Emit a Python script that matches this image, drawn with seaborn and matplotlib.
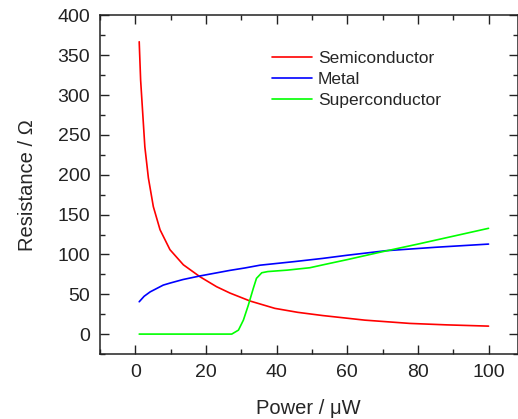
import numpy as np
import pandas as pd
import matplotlib
matplotlib.use("Agg")
import matplotlib.pyplot as plt
import seaborn as sns
from matplotlib.ticker import MultipleLocator

# Data
semi_x = [1.1, 1.5, 2.1, 2.7, 3.7, 5.1, 7.0, 9.8, 13.6, 18.3, 23.0, 26.8,
          32.5, 39.5, 46.0, 53.0, 65.0, 77.7, 88.0, 100.0]
semi_y = [367, 319, 277, 235, 196, 160, 131, 106, 87, 72, 59.5, 51.5,
          41.5, 32.3, 27.3, 23.3, 17.5, 13.4, 11.6, 10.0]

metal_x = [1.1, 2.5, 4.2, 7.9, 9.8, 13.5, 18.3, 26.8, 31.0, 35.3, 45.0,
           53.0, 60.0, 71.0, 85.0, 100.0]
metal_y = [40.6, 47.5, 53.0, 61.5, 64.0, 68.5, 73.0, 80.0, 83.0, 86.5, 91.0,
           95.0, 99.0, 104.7, 109.0, 113.0]

super_x = [1.1, 27.3, 29.2, 30.6, 32.0, 33.4, 34.3, 35.8, 37.5, 43.0, 49.4,
           53.7, 60.0, 69.2, 80.0, 100.0]
super_y = [0.0, 0.0, 5.0, 17.6, 36.4, 57.4, 70.0, 77.0, 78.5, 80.3, 83.3,
           87.5, 93.5, 102.7, 113.0, 132.8]

series_names = ["Semiconductor", "Metal", "Superconductor"]
colors = ["#ff0000", "#0000ff", "#00ff00"]

df = pd.concat([
    pd.DataFrame({"x": semi_x, "y": semi_y, "series": series_names[0]}),
    pd.DataFrame({"x": metal_x, "y": metal_y, "series": series_names[1]}),
    pd.DataFrame({"x": super_x, "y": super_y, "series": series_names[2]}),
], ignore_index=True)

sns.set_theme(style="ticks")
plt.rcParams["font.family"] = ["Liberation Sans", "DejaVu Sans"]

fig = plt.figure(figsize=(5.18, 4.19), dpi=100)
ax = fig.add_axes([100 / 518, 1 - 354 / 419, 417.5 / 518, (354 - 15.5) / 419])

sns.lineplot(data=df, x="x", y="y", hue="series", hue_order=series_names,
             palette=colors, estimator=None, sort=False, linewidth=1.2, ax=ax)
for ln in ax.get_lines():
    ln.set_solid_joinstyle("round")

ax.set_xlim(-10, 108.2)
ax.set_ylim(-25, 400)
ax.xaxis.set_major_locator(MultipleLocator(20))
ax.xaxis.set_minor_locator(MultipleLocator(10))
ax.yaxis.set_major_locator(MultipleLocator(50))
ax.yaxis.set_minor_locator(MultipleLocator(25))

for s in ax.spines.values():
    s.set_linewidth(1.1)
    s.set_color("#222222")

ax.tick_params(which="both", direction="in", top=True, right=True,
               labelsize=14, colors="#222222", width=1.0)
ax.tick_params(which="major", length=6.5, pad=7)
ax.tick_params(which="minor", length=3.3)

ax.set_xlabel("Power / μW", fontsize=14.5, labelpad=13)
ax.set_ylabel("Resistance / Ω", fontsize=14.5, labelpad=15)

handles, labels = ax.get_legend_handles_labels()
leg = ax.legend(handles=handles, labels=labels, frameon=False, fontsize=12.5,
                loc="center left", bbox_to_anchor=(272 / 518, 1 - 79.5 / 419),
                bbox_transform=fig.transFigure, borderaxespad=0, borderpad=0,
                handlelength=2.3, handletextpad=0.35, labelspacing=0.33)
for h in leg.get_lines():
    h.set_linewidth(1.2)

fig.savefig("out.png", dpi=100)
